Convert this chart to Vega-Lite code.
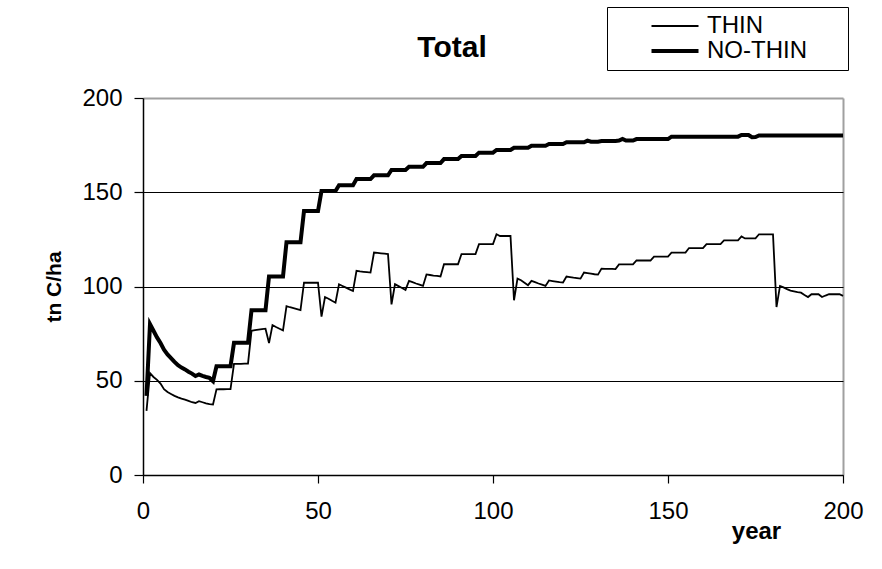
{
  "$schema": "https://vega.github.io/schema/vega-lite/v6.json",
  "width": 700,
  "height": 377,
  "autosize": {"type": "none"},
  "padding": {"left": 143, "top": 98, "right": 39, "bottom": 94},
  "background": "white",
  "title": {"text": "Total", "fontSize": 30, "fontWeight": "bold", "font": "Liberation Sans", "color": "black", "anchor": "middle", "frame": "group", "dx": -41, "offset": 0, "dy": 80, "baseline": "alphabetic"},
  "datasets": {
    "thin": [
      {"year":1,"v":34},{"year":2,"v":54},{"year":3,"v":52},{"year":4,"v":50.5},{"year":5,"v":48.5},{"year":6,"v":45.5},{"year":7,"v":44},{"year":8,"v":43},{"year":9,"v":42},{"year":10,"v":41.2},
      {"year":11,"v":40.5},{"year":12,"v":40},{"year":13,"v":39.3},{"year":14,"v":38.6},{"year":15,"v":38.2},{"year":16,"v":39.2},{"year":17,"v":38.6},{"year":18,"v":38},{"year":19,"v":37.6},{"year":20,"v":37.4},
      {"year":21,"v":45.4},{"year":22,"v":45.5},{"year":23,"v":45.5},{"year":24,"v":45.6},{"year":25,"v":45.6},{"year":26,"v":59},{"year":27,"v":59},{"year":28,"v":59},{"year":29,"v":59.1},{"year":30,"v":59.1},
      {"year":31,"v":76.5},{"year":32,"v":76.8},{"year":33,"v":77.1},{"year":34,"v":77.4},{"year":35,"v":77.6},{"year":36,"v":70},{"year":37,"v":79.5},{"year":38,"v":78.5},{"year":39,"v":77.6},{"year":40,"v":76.7},
      {"year":41,"v":89.6},{"year":42,"v":89},{"year":43,"v":88.5},{"year":44,"v":88},{"year":45,"v":87.5},{"year":46,"v":102},{"year":47,"v":102},{"year":48,"v":102},{"year":49,"v":102},{"year":50,"v":102},
      {"year":51,"v":84},{"year":52,"v":94.4},{"year":53,"v":93.5},{"year":54,"v":92.4},{"year":55,"v":91.4},{"year":56,"v":101.2},{"year":57,"v":100.3},{"year":58,"v":99.4},{"year":59,"v":98.5},{"year":60,"v":97.6},
      {"year":61,"v":108.3},{"year":62,"v":108},{"year":63,"v":107.8},{"year":64,"v":107.6},{"year":65,"v":107.4},{"year":66,"v":118},{"year":67,"v":117.8},{"year":68,"v":117.6},{"year":69,"v":117.4},{"year":70,"v":117.2},
      {"year":71,"v":90.5},{"year":72,"v":101.2},{"year":73,"v":100.2},{"year":74,"v":99.2},{"year":75,"v":98.2},{"year":76,"v":103},{"year":77,"v":102.3},{"year":78,"v":101.6},{"year":79,"v":101},{"year":80,"v":100.3},
      {"year":81,"v":106.4},{"year":82,"v":106.1},{"year":83,"v":105.8},{"year":84,"v":105.6},{"year":85,"v":105.3},{"year":86,"v":111.8},{"year":87,"v":111.8},{"year":88,"v":111.8},{"year":89,"v":111.8},{"year":90,"v":111.8},
      {"year":91,"v":117.2},{"year":92,"v":117.2},{"year":93,"v":117.2},{"year":94,"v":117.2},{"year":95,"v":117.2},{"year":96,"v":122.5},{"year":97,"v":122.5},{"year":98,"v":122.5},{"year":99,"v":122.5},{"year":100,"v":122.5},
      {"year":101,"v":127.7},{"year":102,"v":126.8},{"year":103,"v":126.8},{"year":104,"v":126.8},{"year":105,"v":126.8},{"year":106,"v":92.7},{"year":107,"v":104.2},{"year":108,"v":103.3},{"year":109,"v":102},{"year":110,"v":100.7},
      {"year":111,"v":103},{"year":112,"v":102.3},{"year":113,"v":101.6},{"year":114,"v":101},{"year":115,"v":100.3},{"year":116,"v":103.2},{"year":117,"v":102.9},{"year":118,"v":102.6},{"year":119,"v":102.3},{"year":120,"v":102.1},
      {"year":121,"v":105.3},{"year":122,"v":105},{"year":123,"v":104.7},{"year":124,"v":104.5},{"year":125,"v":104.2},{"year":126,"v":107.4},{"year":127,"v":107.1},{"year":128,"v":106.8},{"year":129,"v":106.5},{"year":130,"v":106.3},
      {"year":131,"v":109.5},{"year":132,"v":109.4},{"year":133,"v":109.3},{"year":134,"v":109.3},{"year":135,"v":109.2},{"year":136,"v":111.7},{"year":137,"v":111.7},{"year":138,"v":111.7},{"year":139,"v":111.7},{"year":140,"v":111.7},
      {"year":141,"v":113.8},{"year":142,"v":113.8},{"year":143,"v":113.8},{"year":144,"v":113.8},{"year":145,"v":113.8},{"year":146,"v":115.9},{"year":147,"v":115.9},{"year":148,"v":115.9},{"year":149,"v":115.9},{"year":150,"v":115.9},
      {"year":151,"v":118},{"year":152,"v":118},{"year":153,"v":118},{"year":154,"v":118},{"year":155,"v":118},{"year":156,"v":120.4},{"year":157,"v":120.4},{"year":158,"v":120.4},{"year":159,"v":120.4},{"year":160,"v":120.4},
      {"year":161,"v":122.5},{"year":162,"v":122.5},{"year":163,"v":122.5},{"year":164,"v":122.5},{"year":165,"v":122.5},{"year":166,"v":124.5},{"year":167,"v":124.5},{"year":168,"v":124.5},{"year":169,"v":124.5},{"year":170,"v":124.5},
      {"year":171,"v":126.6},{"year":172,"v":125.5},{"year":173,"v":125.5},{"year":174,"v":125.5},{"year":175,"v":125.5},{"year":176,"v":127.7},{"year":177,"v":127.7},{"year":178,"v":127.7},{"year":179,"v":127.7},{"year":180,"v":127.7},
      {"year":181,"v":89.1},{"year":182,"v":100.3},{"year":183,"v":99.5},{"year":184,"v":98.6},{"year":185,"v":97.8},{"year":186,"v":97.4},{"year":187,"v":97},{"year":188,"v":96.7},{"year":189,"v":95.5},{"year":190,"v":94.4},
      {"year":191,"v":95.9},{"year":192,"v":95.9},{"year":193,"v":95.9},{"year":194,"v":94.4},{"year":195,"v":95.2},{"year":196,"v":95.9},{"year":197,"v":95.9},{"year":198,"v":95.9},{"year":199,"v":95.9},{"year":200,"v":95}
    ],
    "nothin": [
      {"year":1,"v":42},{"year":2,"v":80},{"year":3,"v":76.5},{"year":4,"v":73},{"year":5,"v":70},{"year":6,"v":66.5},{"year":7,"v":64},{"year":8,"v":62},{"year":9,"v":60},{"year":10,"v":58.2},
      {"year":11,"v":57},{"year":12,"v":56},{"year":13,"v":54.8},{"year":14,"v":53.8},{"year":15,"v":52.5},{"year":16,"v":53.3},{"year":17,"v":52.6},{"year":18,"v":52},{"year":19,"v":51.5},{"year":20,"v":49.8},
      {"year":21,"v":57.7},{"year":22,"v":57.7},{"year":23,"v":57.7},{"year":24,"v":57.7},{"year":25,"v":57.7},{"year":26,"v":70.1},{"year":27,"v":70.1},{"year":28,"v":70.1},{"year":29,"v":70.1},{"year":30,"v":70.1},
      {"year":31,"v":87.4},{"year":32,"v":87.4},{"year":33,"v":87.4},{"year":34,"v":87.4},{"year":35,"v":87.4},{"year":36,"v":105.3},{"year":37,"v":105.3},{"year":38,"v":105.3},{"year":39,"v":105.3},{"year":40,"v":105.3},
      {"year":41,"v":123.5},{"year":42,"v":123.5},{"year":43,"v":123.5},{"year":44,"v":123.5},{"year":45,"v":123.5},{"year":46,"v":140},{"year":47,"v":140},{"year":48,"v":140},{"year":49,"v":140},{"year":50,"v":140},
      {"year":51,"v":150.7},{"year":52,"v":150.7},{"year":53,"v":150.7},{"year":54,"v":150.7},{"year":55,"v":150.7},{"year":56,"v":153.7},{"year":57,"v":153.7},{"year":58,"v":153.7},{"year":59,"v":153.7},{"year":60,"v":153.7},
      {"year":61,"v":157},{"year":62,"v":157},{"year":63,"v":157},{"year":64,"v":157},{"year":65,"v":157},{"year":66,"v":159},{"year":67,"v":159},{"year":68,"v":159},{"year":69,"v":159},{"year":70,"v":159},
      {"year":71,"v":161.8},{"year":72,"v":161.8},{"year":73,"v":161.8},{"year":74,"v":161.8},{"year":75,"v":161.8},{"year":76,"v":163.5},{"year":77,"v":163.5},{"year":78,"v":163.5},{"year":79,"v":163.5},{"year":80,"v":163.5},
      {"year":81,"v":165.5},{"year":82,"v":165.5},{"year":83,"v":165.5},{"year":84,"v":165.5},{"year":85,"v":165.5},{"year":86,"v":167.6},{"year":87,"v":167.6},{"year":88,"v":167.6},{"year":89,"v":167.6},{"year":90,"v":167.6},
      {"year":91,"v":169.2},{"year":92,"v":169.2},{"year":93,"v":169.2},{"year":94,"v":169.2},{"year":95,"v":169.2},{"year":96,"v":171},{"year":97,"v":171},{"year":98,"v":171},{"year":99,"v":171},{"year":100,"v":171},
      {"year":101,"v":172.4},{"year":102,"v":172.4},{"year":103,"v":172.4},{"year":104,"v":172.4},{"year":105,"v":172.4},{"year":106,"v":173.6},{"year":107,"v":173.6},{"year":108,"v":173.6},{"year":109,"v":173.6},{"year":110,"v":173.6},
      {"year":111,"v":174.7},{"year":112,"v":174.7},{"year":113,"v":174.7},{"year":114,"v":174.7},{"year":115,"v":174.7},{"year":116,"v":175.6},{"year":117,"v":175.6},{"year":118,"v":175.6},{"year":119,"v":175.6},{"year":120,"v":175.6},
      {"year":121,"v":176.5},{"year":122,"v":176.5},{"year":123,"v":176.5},{"year":124,"v":176.5},{"year":125,"v":176.5},{"year":126,"v":176.5},{"year":127,"v":177.4},{"year":128,"v":176.8},{"year":129,"v":176.8},{"year":130,"v":176.8},
      {"year":131,"v":177.2},{"year":132,"v":177.2},{"year":133,"v":177.2},{"year":134,"v":177.2},{"year":135,"v":177.2},{"year":136,"v":177.4},{"year":137,"v":178.3},{"year":138,"v":177.4},{"year":139,"v":177.4},{"year":140,"v":177.4},
      {"year":141,"v":178.2},{"year":142,"v":178.2},{"year":143,"v":178.2},{"year":144,"v":178.2},{"year":145,"v":178.2},{"year":146,"v":178.2},{"year":147,"v":178.2},{"year":148,"v":178.2},{"year":149,"v":178.2},{"year":150,"v":178.2},
      {"year":151,"v":179.5},{"year":152,"v":179.5},{"year":153,"v":179.5},{"year":154,"v":179.5},{"year":155,"v":179.5},{"year":156,"v":179.5},{"year":157,"v":179.5},{"year":158,"v":179.5},{"year":159,"v":179.5},{"year":160,"v":179.5},
      {"year":161,"v":179.5},{"year":162,"v":179.5},{"year":163,"v":179.5},{"year":164,"v":179.5},{"year":165,"v":179.5},{"year":166,"v":179.5},{"year":167,"v":179.5},{"year":168,"v":179.5},{"year":169,"v":179.5},{"year":170,"v":179.5},
      {"year":171,"v":180.4},{"year":172,"v":180.4},{"year":173,"v":180.4},{"year":174,"v":179.2},{"year":175,"v":179.3},{"year":176,"v":180.1},{"year":177,"v":180.1},{"year":178,"v":180.1},{"year":179,"v":180.1},{"year":180,"v":180.1},
      {"year":181,"v":180.1},{"year":182,"v":180.1},{"year":183,"v":180.1},{"year":184,"v":180.1},{"year":185,"v":180.1},{"year":186,"v":180.1},{"year":187,"v":180.1},{"year":188,"v":180.1},{"year":189,"v":180.1},{"year":190,"v":180.1},
      {"year":191,"v":180.1},{"year":192,"v":180.1},{"year":193,"v":180.1},{"year":194,"v":180.1},{"year":195,"v":180.1},{"year":196,"v":180.1},{"year":197,"v":180.1},{"year":198,"v":180.1},{"year":199,"v":180.1},{"year":200,"v":180.1}
    ]
  },
  "layer": [
    {
      "data": {"name": "thin"},
      "transform": [{"calculate": "'THIN'", "as": "series"}],
      "mark": {"type": "line", "color": "black", "strokeJoin": "miter"},
      "encoding": {
        "x": {"field": "year", "type": "quantitative"},
        "y": {"field": "v", "type": "quantitative"},
        "strokeWidth": {"field": "series", "type": "ordinal"}
      }
    },
    {
      "data": {"name": "nothin"},
      "transform": [{"calculate": "'NO-THIN'", "as": "series"}],
      "mark": {"type": "line", "color": "black", "strokeJoin": "miter"},
      "encoding": {
        "x": {"field": "year", "type": "quantitative"},
        "y": {"field": "v", "type": "quantitative"},
        "strokeWidth": {"field": "series", "type": "ordinal"}
      }
    }
  ],
  "encoding": {
    "x": {
      "field": "year", "type": "quantitative",
      "scale": {"domain": [0, 200], "nice": false},
      "axis": {
        "values": [0, 50, 100, 150, 200],
        "title": "year", "titleFontSize": 24, "titleFontWeight": "bold", "titleColor": "black",
        "titleX": 613, "titleY": 63, "titleAlign": "center", "titleBaseline": "alphabetic",
        "labelFontSize": 24, "labelColor": "black", "labelPadding": 16, "labelFlush": false, "labelOverlap": false,
        "tickSize": 8, "tickColor": "black", "tickWidth": 1.2,
        "domainColor": "black", "domainWidth": 1.5,
        "grid": true, "gridColor": "#a0a0a0", "gridWidth": 2,
        "gridOpacity": {"condition": {"test": "datum.value === 200", "value": 1}, "value": 0}
      }
    },
    "y": {
      "field": "v", "type": "quantitative",
      "scale": {"domain": [0, 200], "nice": false},
      "axis": {
        "values": [0, 50, 100, 150, 200],
        "title": "tn C/ha", "titleFontSize": 21, "titleFontWeight": "bold", "titleColor": "black",
        "titleX": -83, "titleY": 188.5, "titleAngle": 270, "titleAlign": "center", "titleBaseline": "alphabetic",
        "labelFontSize": 24, "labelColor": "black", "labelPadding": 12, "labelOverlap": false,
        "tickSize": 9, "tickColor": "black", "tickWidth": 1.2,
        "domainColor": "black", "domainWidth": 1.5,
        "grid": true,
        "gridColor": {"condition": {"test": "datum.value === 200", "value": "#a0a0a0"}, "value": "black"},
        "gridWidth": {"condition": {"test": "datum.value === 200", "value": 2}, "value": 1}
      }
    },
    "strokeWidth": {
      "field": "series", "type": "ordinal",
      "scale": {"domain": ["THIN", "NO-THIN"], "range": [1.8, 4]},
      "legend": {
        "orient": "none", "legendX": 464, "legendY": -91,
        "title": "xx", "titleOrient": "right", "titleColor": "transparent", "titleFontSize": 22, "titlePadding": 9,
        "symbolType": "M-4.7,0H4.7", "symbolSize": 100, "symbolStrokeColor": "black",
        "symbolOffset": 49, "labelOffset": 20,
        "labelFontSize": 24, "labelColor": "black",
        "padding": 7, "rowPadding": 1,
        "strokeColor": "black", "fillColor": "white"
      }
    }
  },
  "config": {
    "font": "Liberation Sans",
    "view": {"stroke": null},
    "legend": {"labelFont": "Liberation Sans", "titleFont": "Liberation Sans"}
  }
}
